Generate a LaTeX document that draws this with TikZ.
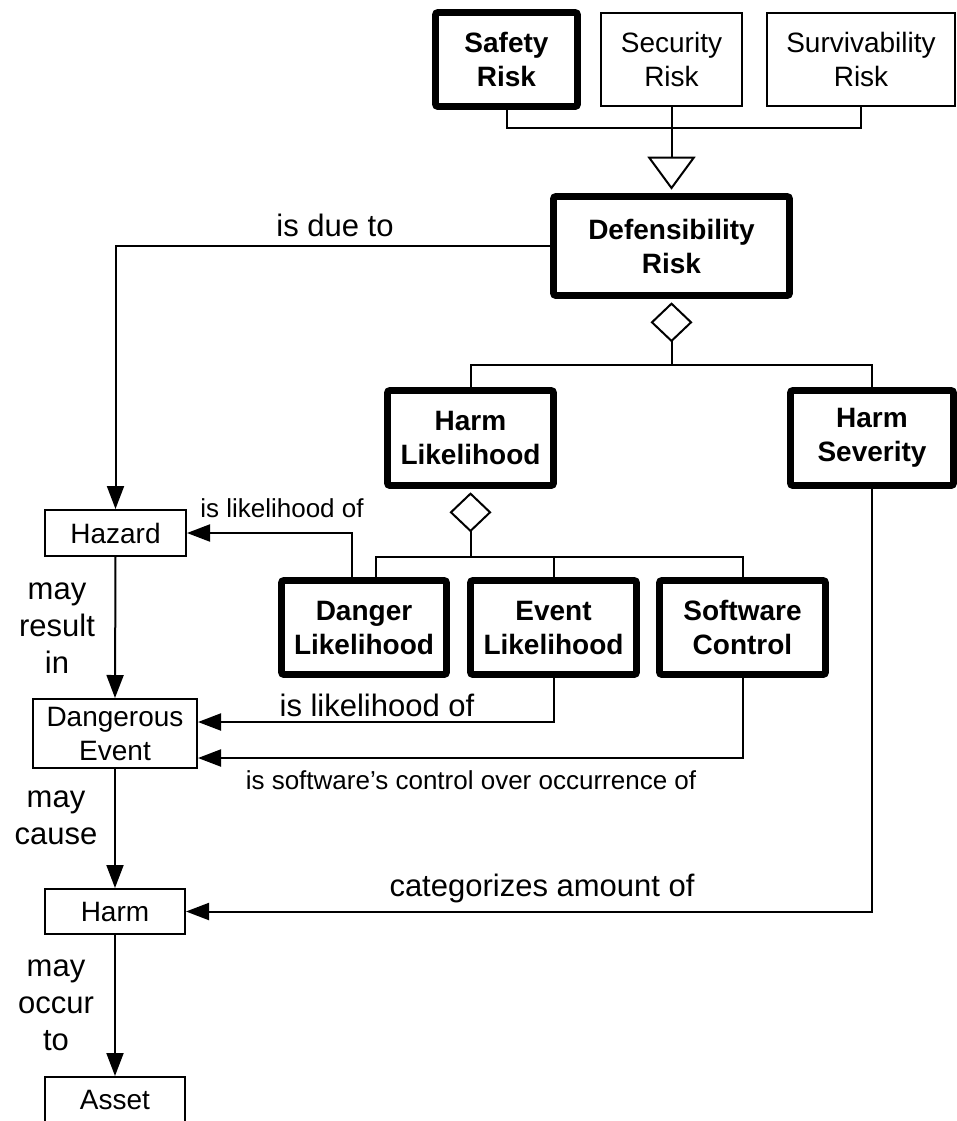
\documentclass[tikz,border=0pt]{standalone}
\usepackage{fontspec}
\setmainfont{Liberation Sans}
\usetikzlibrary{arrows.meta}
\begin{document}
\begin{tikzpicture}[x=0.5pt,y=-0.5pt,
  box/.style={draw, line width=1pt, align=center, inner sep=0pt, font=\fontsize{14}{17}\selectfont},
  bbox/.style={draw, line width=3.4pt, rounded corners=1.2pt, align=center, inner sep=0pt, font=\fontsize{14}{17}\selectfont\bfseries},
  conn/.style={line width=1pt},
  arr/.style={conn, -{Triangle[length=11.5pt,width=8.5pt]}},
  gen/.style={conn, -{Triangle[open,length=16.5pt,width=24pt,fill=white]}, shorten >=1.7pt},
  agg/.style={conn, {Diamond[open,length=20pt,width=21pt,fill=white]}-, shorten <=1.7pt},
  biglbl/.style={inner sep=0pt, align=center, font=\fontsize{15.5}{18.5}\selectfont},
  smalllbl/.style={inner sep=0pt, align=center, font=\fontsize{13}{15.5}\selectfont}
]
\useasboundingbox (0,0) rectangle (957,1121);

% top row
\node[bbox, minimum width=71pt, minimum height=47pt] (safety) at (506.5,59.5) {Safety\\Risk};
\node[box, minimum width=70.5pt, minimum height=46.5pt] (security) at (671.5,59.5) {Security\\Risk};
\node[box, minimum width=94pt, minimum height=46.5pt] (surv) at (861,59.5) {Survivability\\Risk};
\node[bbox, minimum width=118pt, minimum height=49.5pt] (def) at (671.5,246) {Defensibility\\Risk};

% second level
\node[bbox, minimum width=83pt, minimum height=47.5pt] (harmL) at (470.5,438) {Harm\\Likelihood};
\node[bbox, minimum width=81.5pt, minimum height=47.5pt] (harmS) at (872,438) {Harm\\Severity};

% third level
\node[bbox, minimum width=82.5pt, minimum height=47pt] (danger) at (364,627.5) {Danger\\Likelihood};
\node[bbox, minimum width=83pt, minimum height=47pt] (event) at (553.5,627.5) {Event\\Likelihood};
\node[bbox, minimum width=83pt, minimum height=47pt] (software) at (742.5,627.5) {Software\\Control};

% left column
\node[box, minimum width=70.5pt, minimum height=23pt] (hazard) at (115.5,533) {Hazard};
\node[box, minimum width=82pt, minimum height=34.5pt] (devent) at (115,733.5) {Dangerous\\Event};
\node[box, minimum width=70pt, minimum height=22.5pt] (harm) at (115,911.5) {Harm};
\node[box, minimum width=70pt, minimum height=23pt] (asset) at (115,1100) {Asset};

% generalization
\coordinate (bar1) at (671.5,128);
\draw[conn] (safety.south) |- (bar1) -| (surv.south);
\draw[conn] (security.south) -- (bar1);
\draw[gen] (bar1) -- (def.north);

% aggregation of defensibility risk
\coordinate (j1) at (671.5,365);
\draw[agg] (def.south) -- (j1);
\draw[conn] (harmL.north) |- (j1) -| (harmS.north);

% aggregation of harm likelihood
\coordinate (j2) at (470.5,557);
\draw[agg] (harmL.south) -- (j2);
\draw[conn] ([xshift=6pt]danger.north) |- (j2) -| (software.north);
\draw[conn] (event.north) -- (event.north |- j2);

% associations
\draw[arr] (def.west) -| (hazard.north);
\node[biglbl] (ldue) at (335,225) {is due to};

\draw[arr] ([xshift=-6pt]danger.north) |- (hazard.east);
\node[smalllbl] (lhaz) at (282,508) {is likelihood of};

\draw[arr] (event.south) |- ([yshift=5.75pt]devent.east);
\node[biglbl] (levt) at (377,705) {is likelihood of};

\draw[arr] (software.south) |- ([yshift=-12.25pt]devent.east);
\node[smalllbl] (lsw) at (471,780) {is software’s control over occurrence of};

\draw[arr] (harmS.south) |- (harm.east);
\node[biglbl] (lcat) at (542,888) {categorizes amount of};

\draw[arr] (hazard.south) -- (devent.north);
\node[biglbl] (lres) at (57,628) {may\\result\\in};

\draw[arr] (devent.south) -- (harm.north);
\node[biglbl] (lcause) at (56,818) {may\\cause};

\draw[arr] (harm.south) -- (asset.north);
\node[biglbl] (locc) at (56,1005) {may\\occur\\to};
\end{tikzpicture}
\end{document}
